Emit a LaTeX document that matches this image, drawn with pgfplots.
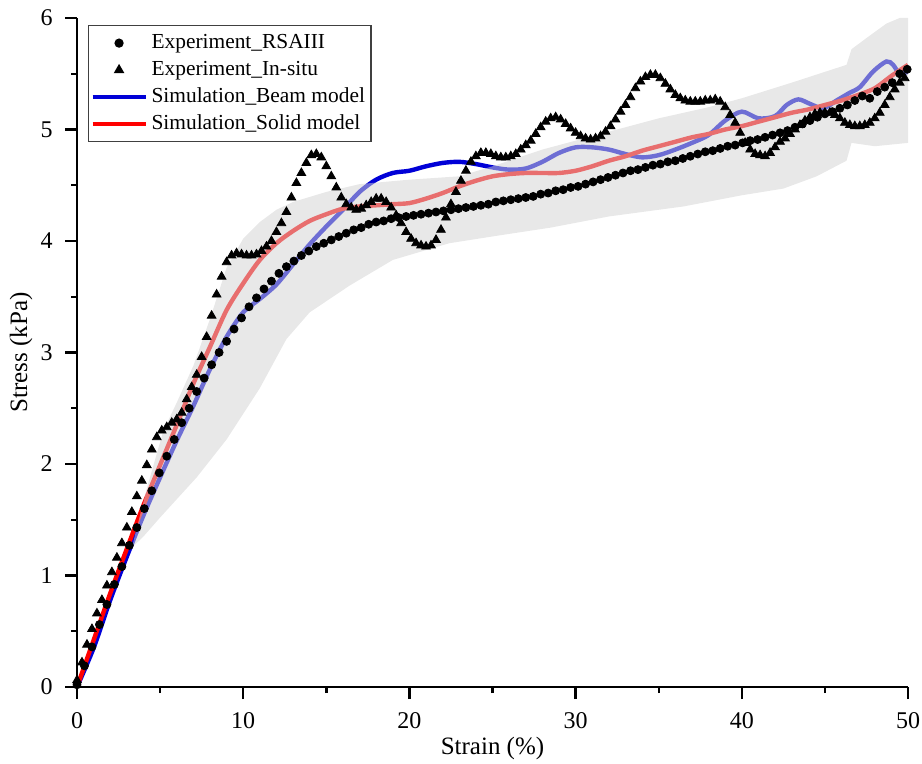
\documentclass[border=0pt]{standalone}
\usepackage{fontspec}
\setmainfont{Liberation Serif}
\usepackage{pgfplots}
\pgfplotsset{compat=1.18}
\definecolor{beamblue}{RGB}{0,0,215}
\definecolor{solidred}{RGB}{255,0,0}
\definecolor{bandgray}{RGB}{211,211,211}
\begin{document}
\begin{tikzpicture}
\begin{axis}[
  scale only axis, width=415.5pt, height=334.5pt,
  xmin=0, xmax=50, ymin=0, ymax=6,
  axis lines=left, axis line style={-, line width=1.2pt},
  xtick={0,10,20,30,40,50}, ytick={0,1,2,3,4,5,6},
  minor x tick num=1, minor y tick num=1,
  tick align=outside, major tick length=6pt, minor tick length=3pt,
  every tick/.style={black, line width=1.2pt},
  tick label style={font=\fontsize{12}{14}\selectfont},
  /pgf/number format/assume math mode=true,
  xticklabel style={yshift=-3pt}, yticklabel style={xshift=-2.7pt},
  xlabel={Strain (\%)}, ylabel={Stress (kPa)},
  label style={font=\fontsize{12.5}{15}\selectfont},
  xlabel style={at={(axis description cs:0.5,-0.0912)}, anchor=center},
  ylabel style={at={(axis description cs:-0.0674,0.5)}, anchor=center},
  legend style={at={(axis description cs:0.0132,0.9895)}, anchor=north west,
    draw=black!75, line width=0.6pt, fill=white,
    font=\fontsize{10.7}{13}\selectfont, inner xsep=1pt, inner ysep=2pt,
    nodes={inner xsep=2pt, inner ysep=0pt, text height=9.5pt, text depth=4pt},
    row sep=0pt},
  legend cell align=left,
  legend image code/.code={\draw[mark repeat=2, mark phase=2, #1] plot coordinates {(0pt,0pt) (13.25pt,0pt) (26.5pt,0pt)};},
]
\addlegendimage{only marks, mark=*, black, mark size=2pt}
\addlegendentry{Experiment\_RSAIII}
\addlegendimage{only marks, mark=triangle*, black, mark size=2.5pt}
\addlegendentry{Experiment\_In-situ}
\addlegendimage{beamblue, line width=2pt}
\addlegendentry{Simulation\_Beam model}
\addlegendimage{solidred, line width=2pt}
\addlegendentry{Simulation\_Solid model}

% Beam model
\addplot[forget plot, beamblue, line width=2.2pt, smooth] coordinates {
(0,0.0) (1,0.35) (2,0.78) (3,1.17) (4,1.54) (5,1.88) (6,2.21) (7,2.52) (8,2.85) (9,3.14)
(10,3.36) (11,3.48) (12,3.61) (13,3.79) (14,3.97) (15,4.13) (16,4.28) (17,4.44) (18,4.55) (19,4.61)
(20,4.63) (21,4.67) (22,4.70) (23,4.71) (24,4.69) (25,4.66) (26,4.64) (27,4.65) (28,4.71) (29,4.79)
(30,4.84) (31,4.84) (32,4.82) (33,4.78) (34,4.75) (35,4.77) (36,4.82) (37,4.88) (38,4.95) (39,5.08)
(40,5.16) (41,5.10) (42,5.12) (42.7,5.22) (43.4,5.27) (44.1,5.23) (44.9,5.19) (45.7,5.26) (46.5,5.33)
(47.1,5.38) (47.9,5.52) (48.7,5.61) (49.1,5.58) (49.5,5.50) (50,5.52)
};
% Solid model
\addplot[forget plot, solidred, line width=2.2pt, smooth] coordinates {
(0,0.0) (1,0.42) (2,0.84) (3,1.24) (4,1.63) (5,1.99) (6,2.35) (7,2.72) (8,3.05) (9,3.38)
(10,3.62) (11,3.83) (12,3.98) (13,4.09) (14,4.18) (15,4.24) (16,4.29) (17,4.31) (18,4.32) (19,4.33)
(20,4.34) (21,4.38) (22,4.43) (23,4.49) (24,4.54) (25,4.58) (26,4.60) (27,4.61) (28,4.61) (29,4.61)
(30,4.63) (31,4.67) (32,4.72) (33,4.76) (34,4.81) (35,4.85) (36,4.89) (37,4.93) (38,4.96) (39,5.00)
(40,5.03) (41,5.07) (42,5.11) (43,5.15) (44,5.18) (45,5.22) (46,5.26) (47,5.31) (48,5.37) (49,5.48) (50,5.58)
};
% In-situ
\addplot[forget plot, only marks, mark=triangle*, black, mark size=2.5pt] coordinates {
(0.0,0.06) (0.3,0.22) (0.6,0.38) (0.9,0.52) (1.2,0.66) (1.5,0.78) (1.8,0.91) (2.1,1.03) (2.4,1.16) (2.7,1.29)
(3.0,1.43) (3.3,1.57) (3.6,1.71) (3.9,1.85) (4.2,1.99) (4.5,2.13) (4.8,2.24) (5.1,2.30) (5.4,2.33) (5.7,2.37)
(6.0,2.40) (6.3,2.46) (6.6,2.58) (6.9,2.69) (7.2,2.80) (7.5,2.96) (7.8,3.14) (8.1,3.33) (8.4,3.52) (8.7,3.68)
(9.0,3.81) (9.3,3.87) (9.6,3.89) (9.9,3.88) (10.2,3.87) (10.5,3.87) (10.8,3.88) (11.1,3.91) (11.4,3.95) (11.7,4.00)
(12.0,4.08) (12.3,4.16) (12.6,4.26) (12.9,4.39) (13.2,4.52) (13.5,4.61) (13.8,4.70) (14.1,4.77) (14.4,4.78) (14.7,4.75)
(15.0,4.67) (15.3,4.58) (15.6,4.48) (15.9,4.39) (16.2,4.33) (16.5,4.30) (16.8,4.28) (17.1,4.29) (17.4,4.32) (17.7,4.35)
(18.0,4.38) (18.3,4.38) (18.6,4.35) (18.9,4.30) (19.2,4.23) (19.5,4.16) (19.8,4.08) (20.1,4.02) (20.4,3.98) (20.7,3.96)
(21.0,3.95) (21.3,3.96) (21.6,4.01) (21.9,4.10) (22.2,4.21) (22.5,4.33) (22.8,4.44) (23.1,4.54) (23.4,4.63) (23.7,4.71)
(24.0,4.76) (24.3,4.79) (24.6,4.79) (24.9,4.78) (25.2,4.76) (25.5,4.75) (25.8,4.75) (26.1,4.76) (26.4,4.78) (26.7,4.82)
(27.0,4.86) (27.3,4.90) (27.6,4.96) (27.9,5.02) (28.2,5.07) (28.5,5.10) (28.8,5.11) (29.1,5.09) (29.4,5.05) (29.7,5.01)
(30.0,4.97) (30.3,4.94) (30.6,4.92) (30.9,4.91) (31.2,4.92) (31.5,4.94) (31.8,4.98) (32.1,5.03) (32.4,5.09) (32.7,5.16)
(33.0,5.22) (33.3,5.29) (33.6,5.37) (33.9,5.43) (34.2,5.47) (34.5,5.49) (34.8,5.49) (35.1,5.46) (35.4,5.41) (35.7,5.36)
(36.0,5.31) (36.3,5.28) (36.6,5.26) (36.9,5.25) (37.2,5.25) (37.5,5.25) (37.8,5.26) (38.1,5.26) (38.4,5.27) (38.7,5.25)
(39.0,5.20) (39.3,5.13) (39.6,5.06) (39.9,4.97) (40.2,4.88) (40.5,4.82) (40.8,4.78) (41.1,4.77) (41.4,4.76) (41.7,4.79)
(42.0,4.84) (42.3,4.89) (42.6,4.92) (42.9,4.96) (43.2,5.00) (43.5,5.04) (43.8,5.08) (44.1,5.11) (44.4,5.14) (44.7,5.15)
(45.0,5.15) (45.3,5.15) (45.6,5.13) (45.9,5.10) (46.2,5.06) (46.5,5.04) (46.8,5.03) (47.1,5.03) (47.4,5.04) (47.7,5.06)
(48.0,5.10) (48.3,5.15) (48.6,5.22) (48.9,5.29) (49.2,5.36) (49.5,5.42) (49.8,5.46)
};
% Band
\addplot[forget plot, draw=none, fill=bandgray, fill opacity=0.52] coordinates {
(3.3,1.25) (4.2,1.78) (5.2,2.3) (6.0,2.55) (7.0,2.88) (8.0,3.30) (9.0,3.76) (10.0,4.02) (11.0,4.17) (12.0,4.28)
(13.0,4.35) (15.0,4.44) (17.0,4.51) (20.0,4.55) (23.0,4.58) (25.0,4.67) (28.0,4.82) (30.0,4.90) (33.0,5.02) (35.0,5.10)
(38.0,5.20) (40.0,5.28) (43.0,5.42) (46.3,5.58) (46.6,5.72) (47.5,5.82) (48.7,5.95) (49.5,6.0) (50,6.0)
(50,4.88) (48,4.85) (46.6,4.88) (46.3,4.72) (44.5,4.58) (42.5,4.47) (40,4.41) (36.5,4.31) (32,4.22) (28.5,4.12)
(25.4,4.05) (22.4,3.98) (19,3.83) (16.4,3.60) (14,3.36) (12.6,3.12) (11,2.68) (9,2.22) (7.2,1.88) (5,1.52) (4,1.35) (3.3,1.25)
} -- cycle;
% RSAIII
\addplot[forget plot, only marks, mark=*, black, mark size=2pt] coordinates {
(0,0.02) (0.45,0.19) (0.9,0.36) (1.35,0.56) (1.8,0.74) (2.25,0.92) (2.7,1.08) (3.15,1.27) (3.6,1.43) (4.05,1.60)
(4.5,1.76) (4.95,1.92) (5.4,2.07) (5.85,2.22) (6.3,2.37) (6.75,2.50) (7.2,2.65) (7.65,2.77) (8.1,2.89) (8.55,3.00)
(9.0,3.10) (9.45,3.21) (9.9,3.31) (10.35,3.41) (10.8,3.49) (11.25,3.57) (11.7,3.64) (12.15,3.71) (12.6,3.77) (13.05,3.82)
(13.5,3.87) (13.95,3.91) (14.4,3.95) (14.85,3.98) (15.3,4.01) (15.75,4.04) (16.2,4.07) (16.65,4.10) (17.1,4.12) (17.55,4.15)
(18.0,4.17) (18.45,4.18) (18.9,4.20) (19.35,4.21) (19.8,4.22) (20.25,4.23) (20.7,4.24) (21.15,4.25) (21.6,4.26) (22.05,4.27)
(22.5,4.28) (22.95,4.29) (23.4,4.30) (23.85,4.31) (24.3,4.32) (24.75,4.33) (25.2,4.35) (25.65,4.36) (26.1,4.37) (26.55,4.38)
(27.0,4.39) (27.45,4.40) (27.9,4.42) (28.35,4.43) (28.8,4.45) (29.25,4.46) (29.7,4.48) (30.15,4.49) (30.6,4.51) (31.05,4.53)
(31.5,4.55) (31.95,4.57) (32.4,4.59) (32.85,4.61) (33.3,4.63) (33.75,4.64) (34.2,4.66) (34.65,4.68) (35.1,4.69) (35.55,4.71)
(36.0,4.72) (36.45,4.74) (36.9,4.76) (37.35,4.78) (37.8,4.80) (38.25,4.81) (38.7,4.83) (39.15,4.85) (39.6,4.86) (40.05,4.88)
(40.5,4.90) (40.95,4.91) (41.4,4.93) (41.85,4.95) (42.3,4.97) (42.75,4.99) (43.2,5.02) (43.65,5.05) (44.1,5.08) (44.55,5.11)
(45.0,5.14) (45.45,5.16) (45.9,5.19) (46.35,5.22) (46.8,5.26) (47.25,5.30) (47.7,5.28) (48.15,5.34) (48.6,5.38) (49.05,5.42)
(49.5,5.50) (49.95,5.54)
};
\coordinate (SW) at (rel axis cs:0,0);
\coordinate (NE) at (rel axis cs:1,1);
\end{axis}
\pgfresetboundingbox
\path[use as bounding box] ([xshift=-38.5pt,yshift=-38pt]SW) rectangle ([xshift=7pt,yshift=9pt]NE);
\end{tikzpicture}
\end{document}
